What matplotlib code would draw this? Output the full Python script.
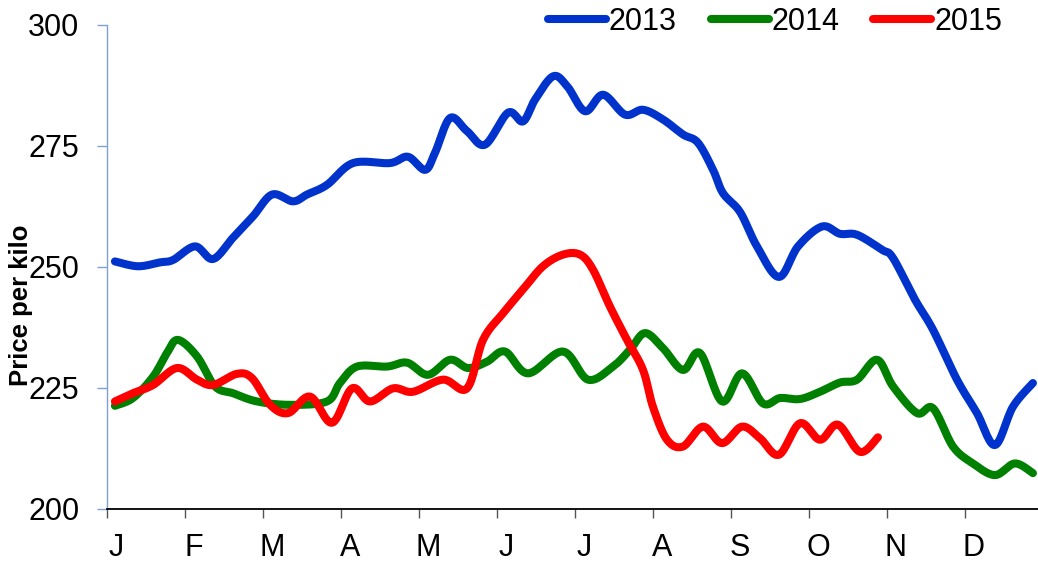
import numpy as np
import matplotlib
matplotlib.use("Agg")
import matplotlib.pyplot as plt

# ---- data (x in weeks of the year, y in price per kilo) ----
months = ["J", "F", "M", "A", "M", "J", "J", "A", "S", "O", "N", "D"]

wk_2013 = [0.99, 2.27, 3.49, 4.22, 5.44, 6.44, 7.55, 8.66, 9.72, 10.88, 11.66, 12.77,
           14.22, 16.27, 17.27, 18.22, 18.77, 19.61, 20.55, 21.55, 22.83, 23.66, 24.33,
           25.33, 26.11, 27.11, 28.11, 29.33, 30.33, 31.44, 32.55, 33.38, 34.22, 34.77,
           35.72, 36.66, 37.88, 38.94, 40.27, 41.27, 42.22, 43.61, 44.22, 45.44, 46.44,
           47.77, 48.88, 49.88, 50.88, 51.99]
price_2013 = [251.1, 250.1, 250.9, 251.4, 254.2, 251.6, 256.0, 260.4, 264.9, 263.5, 264.9,
              266.9, 271.4, 271.4, 272.7, 270.0, 273.5, 280.7, 278.0, 275.2, 281.8, 280.0,
              284.5, 289.3, 287.3, 282.1, 285.5, 281.4, 282.4, 280.4, 277.3, 275.6, 270.0,
              265.2, 261.3, 254.2, 247.9, 254.2, 258.3, 256.8, 256.6, 253.5, 251.8, 243.2,
              237.0, 226.7, 219.8, 213.2, 221.1, 226.0]

wk_2014 = [0.99, 1.99, 3.11, 3.88, 4.49, 5.55, 6.55, 7.55, 8.88, 10.72, 12.77, 13.49,
           14.44, 16.11, 17.22, 18.38, 19.61, 20.61, 21.66, 22.66, 23.94, 25.88, 27.27,
           28.66, 29.61, 30.44, 31.44, 32.55, 33.49, 34.72, 35.83, 36.99, 37.94, 39.05,
           40.16, 41.27, 42.22, 43.33, 44.22, 45.55, 46.44, 47.55, 48.66, 49.88, 50.99,
           51.99]
price_2014 = [221.3, 222.9, 227.3, 232.2, 234.9, 231.5, 225.3, 223.9, 222.2, 221.5, 222.2,
              226.0, 229.4, 229.4, 230.2, 227.7, 230.8, 229.1, 230.4, 232.5, 228.0, 232.5,
              226.7, 229.4, 232.9, 236.3, 233.2, 228.7, 232.2, 222.2, 228.0, 221.8, 222.9,
              222.7, 224.2, 226.1, 226.7, 230.8, 225.3, 219.8, 220.8, 212.9, 209.4, 207.0,
              209.4, 207.4]

wk_2015 = [0.99, 1.99, 3.11, 4.44, 5.55, 6.44, 7.77, 8.61, 9.61, 10.61, 11.83, 13.05,
           14.16, 15.16, 16.44, 17.55, 19.22, 20.55, 21.44, 22.55, 23.66, 24.77, 25.88,
           26.83, 27.55, 28.49, 29.44, 30.33, 30.88, 31.66, 32.55, 33.66, 34.72, 35.83,
           36.83, 37.88, 39.05, 40.16, 41.16, 42.38, 43.38]
price_2015 = [222.2, 223.9, 225.6, 229.1, 226.7, 225.6, 227.9, 227.0, 221.5, 219.8, 223.2,
              217.8, 224.9, 222.2, 224.9, 224.2, 226.7, 224.9, 234.9, 240.4, 245.3, 250.1,
              252.5, 252.5, 249.4, 241.8, 234.9, 228.7, 221.1, 214.3, 212.9, 217.0, 213.6,
              217.0, 214.6, 211.2, 217.7, 214.3, 217.4, 211.8, 214.8]

series = [("2013", wk_2013, price_2013, "#0033CC"),
          ("2014", wk_2014, price_2014, "#008000"),
          ("2015", wk_2015, price_2015, "#FF0000")]


def smooth(x, y, n=16):
    """Excel-like smoothed line (uniform Catmull-Rom / Bezier through points)."""
    p = np.column_stack([x, y]).astype(float)
    pts = np.vstack([p[0], p, p[-1]])
    t = np.linspace(0, 1, n, endpoint=False)[:, None]
    out = []
    for i in range(1, len(pts) - 2):
        p0, p1, p2, p3 = pts[i - 1], pts[i], pts[i + 1], pts[i + 2]
        c1 = p1 + (p2 - p0) / 6.0
        c2 = p2 - (p3 - p1) / 6.0
        seg = ((1 - t) ** 3) * p1 + 3 * ((1 - t) ** 2) * t * c1 + 3 * (1 - t) * t ** 2 * c2 + t ** 3 * p2
        out.append(seg)
    out.append(p[-1][None, :])
    out = np.vstack(out)
    return out[:, 0], out[:, 1]


plt.rcParams['font.family'] = ['Liberation Sans', 'DejaVu Sans']

fig = plt.figure(figsize=(10.38, 5.64), dpi=100)
W, H = 1038, 564
ax = fig.add_axes([107 / W, 1 - 509 / H, (1040 - 107) / W, (509 - 24.5) / H])

for name, xs, ys, col in series:
    sx, sy = smooth(xs, ys)
    ax.plot(sx, sy, color=col, lw=5.8, solid_capstyle='round', solid_joinstyle='round', label=name)

x0 = 0.55
ax.set_xlim(x0, x0 + (1040 - 107) / 18.0)
ax.set_ylim(200, 300)
ax.set_yticks([200, 225, 250, 275, 300])

mticks = [x0 + 52 / 12 * k for k in range(12)]
ax.set_xticks(mticks)
ax.set_xticklabels([""] * 12)
ax.set_xticks([m + 0.5 for m in mticks], minor=True)
ax.set_xticklabels(months, minor=True)
ax.tick_params(axis='x', which='major', length=6.5, width=1, color='#555555', direction='out')
ax.tick_params(axis='x', which='minor', length=0, pad=17, labelsize=22)
ax.tick_params(axis='y', length=7, width=1, color='#7FA0D0', direction='out', pad=13, labelsize=22)

for s in ['top', 'right']:
    ax.spines[s].set_visible(False)
ax.spines['left'].set_color('#7FA0D0')
ax.spines['left'].set_linewidth(1.0)
ax.spines['bottom'].set_color('black')
ax.spines['bottom'].set_linewidth(1.3)

fig.text(21 / W, 1 - 305 / H, "Price per kilo", rotation=90, ha='center', va='center',
         fontsize=18.5, fontweight='bold')

leg = fig.legend(loc='center', bbox_to_anchor=(775 / W, 1 - 21.7 / H), ncol=3, frameon=False,
                 fontsize=22, handlelength=1.9, handletextpad=0.1, columnspacing=1.1,
                 borderaxespad=0, borderpad=0)

fig.savefig("out.png", dpi=100)
